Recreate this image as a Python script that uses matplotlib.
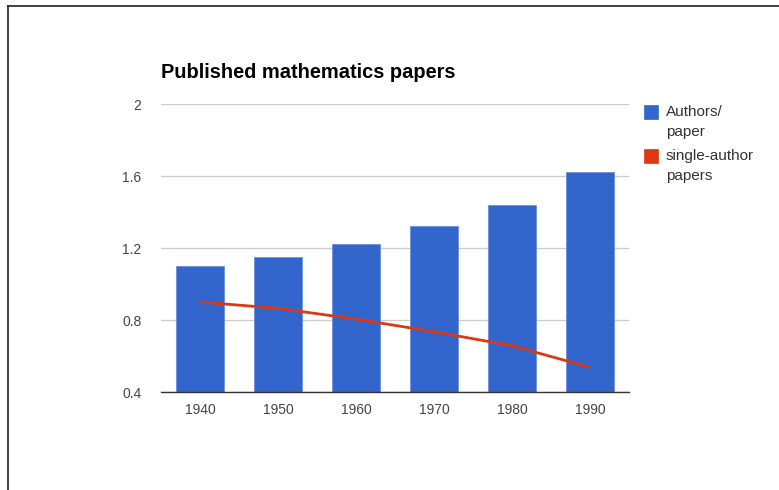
import matplotlib.pyplot as plt
from matplotlib.patches import Rectangle
from matplotlib.lines import Line2D

plt.rcParams['font.family'] = ['Liberation Sans', 'DejaVu Sans']

# Data
years = ['1940', '1950', '1960', '1970', '1980', '1990']
authors_per_paper = [1.10, 1.15, 1.22, 1.32, 1.44, 1.62]
single_author = [0.90, 0.865, 0.805, 0.735, 0.657, 0.537]
y_ticks = [0.4, 0.8, 1.2, 1.6, 2.0]
y_tick_labels = ['0.4', '0.8', '1.2', '1.6', '2']
legend_labels = [['Authors/', 'paper'], ['single-author', 'papers']]

blue = '#3366cc'
red = '#dc3912'

fig = plt.figure(figsize=(7.79, 4.90), dpi=100)
W, H = 779, 490


def fx(px):
    return px / W


def fy(py):
    return 1 - py / H


# page frame (screenshot border)
fig.add_artist(Line2D([fx(8), fx(8)], [0, fy(6)], color='#222222', linewidth=1.2))
fig.add_artist(Line2D([fx(8), 1], [fy(6), fy(6)], color='#222222', linewidth=1.2))

ax = fig.add_axes([fx(161), fy(392), (629 - 161) / W, (392 - 104) / H])

x = range(len(years))
ax.bar(x, [v - 0.4 for v in authors_per_paper], bottom=0.4, width=0.62,
       color=blue, edgecolor='#6d8fe0', linewidth=0.6, zorder=2)
ax.plot(x, single_author, color=red, linewidth=2.0, zorder=3,
        solid_capstyle='butt')

ax.set_xlim(-0.5, len(years) - 0.5)
ax.set_ylim(0.4, 2.0)
ax.set_yticks(y_ticks)
ax.set_yticklabels(y_tick_labels)
ax.set_xticks(list(x))
ax.set_xticklabels(years)
ax.grid(axis='y', color='#cccccc', linewidth=1.0, zorder=0)
ax.set_axisbelow(True)

for side in ['top', 'right', 'left']:
    ax.spines[side].set_visible(False)
ax.spines['bottom'].set_color('#333333')
ax.spines['bottom'].set_linewidth(1.0)
ax.spines['bottom'].set_zorder(4)
ax.tick_params(axis='both', length=0, labelsize=10, labelcolor='#444444')
ax.tick_params(axis='y', pad=14)
ax.tick_params(axis='x', pad=8)

fig.text(fx(161), fy(72), 'Published mathematics papers', fontsize=14.4,
         fontweight='bold', color='black', va='center', ha='left')

# legend drawn by hand (square aligned with first text line)
for i, (lines, col) in enumerate(zip(legend_labels, [blue, red])):
    top = 105 + i * 44
    fig.add_artist(Rectangle((fx(644), fy(top + 14)), 14 / W, 14 / H,
                             facecolor=col, edgecolor=col, linewidth=0.5,
                             transform=fig.transFigure))
    for j, s in enumerate(lines):
        fig.text(fx(666), fy(top + 7 + j * 20), s, fontsize=11,
                 color='#333333', va='center', ha='left')

fig.savefig('out.png', dpi=100)
